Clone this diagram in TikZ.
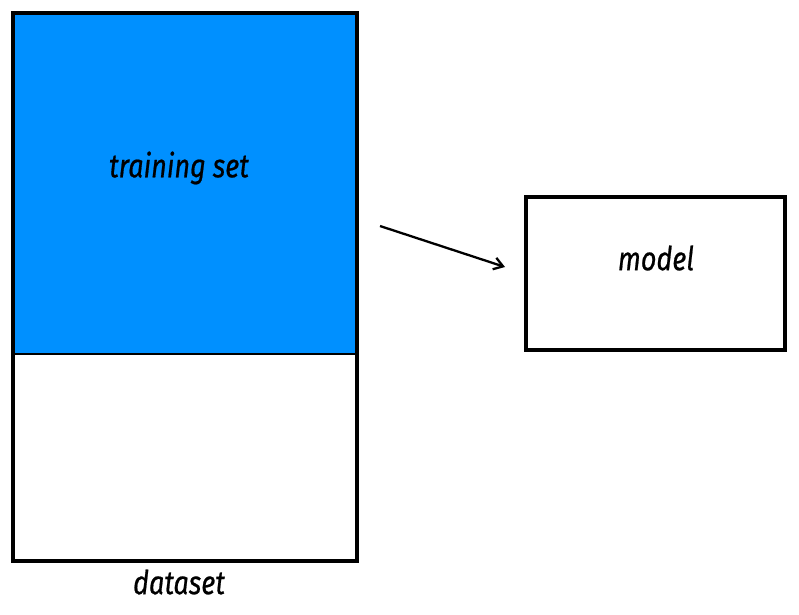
\documentclass[tikz,border=0pt]{standalone}
\usepackage{fontspec}
\setmainfont{Fira Sans}[FakeStretch=0.82,FakeBold=0.6]
\usetikzlibrary{arrows.meta}
\definecolor{trainblue}{HTML}{0090FF}
\begin{document}
\begin{tikzpicture}[x=1pt,y=-1pt,
  box/.style={draw=black,line width=4pt},
  lbl/.style={font=\fontsize{33}{38}\selectfont\itshape,inner sep=0pt},
  conn/.style={draw=black,line width=2.3pt,-{Straight Barb[length=9pt,width=12pt,line width=2.3pt]}}]
\useasboundingbox (0,0) rectangle (799,614);
\fill[trainblue] (13,13) rectangle (357,354);
\draw[box] (13,13) rectangle (357,561);
\draw[line width=2.5pt] (13,354) -- (357,354);
\node[lbl] (train) at (179,168) {training set};
\node[lbl] (ds) at (179,582) {dataset};
\node[box,minimum width=259pt,minimum height=153pt,inner sep=0pt] (model) at (655.5,273.5) {};
\node[lbl] (mlabel) at (656,258) {model};
\coordinate (a1) at (380,226);
\coordinate (a2) at (505,267);
\draw[conn] (a1) -- (a2);
\end{tikzpicture}
\end{document}
